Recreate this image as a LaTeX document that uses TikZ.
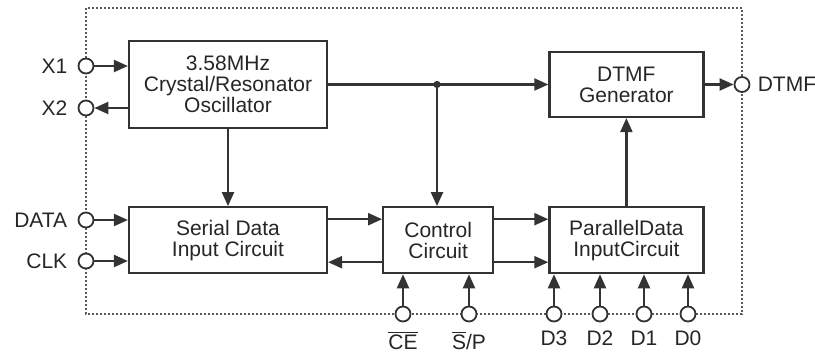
\documentclass[tikz,border=0pt]{standalone}
\usepackage{fontspec}
\setmainfont{Liberation Sans}
\usetikzlibrary{positioning,arrows.meta,calc}
\tikzset{
  blk/.style={draw=black!80, line width=1.1pt, fill=white, font=\fontsize{10.5}{10.5}\selectfont, text=black!85, align=center, inner sep=0pt},
  pin/.style={draw=black!80, line width=0.9pt, circle, fill=white, minimum size=7.5pt, inner sep=0pt},
  pl/.style={font=\fontsize{10.5}{10.5}\selectfont, text=black!85, inner sep=1pt},
  sg/.style={-{Triangle[length=7pt,width=6pt]}, line width=1.1pt, draw=black!80},
}
\begin{document}
\begin{tikzpicture}[x=0.5pt, y=-0.5pt]
\useasboundingbox (0,0) rectangle (815,353);
\draw[black!65, line width=0.9pt, dash pattern=on 1pt off 1pt] (86,8) rectangle (742,314);
\node[blk, minimum width=99pt, minimum height=43.5pt] (osc) at (228,84.5) {3.58MHz\\Crystal/Resonator\\Oscillator};
\node[blk, minimum width=99pt, minimum height=33pt, below=38.5pt of osc] (serial) {Serial Data\\Input Circuit};
\node[blk, minimum width=55pt, minimum height=33pt, right=27pt of serial] (ctrl) {Control\\Circuit};
\node[blk, minimum width=77pt, minimum height=33pt, right=27pt of ctrl] (par) {ParallelData\\InputCircuit};
\node[blk, minimum width=77pt, minimum height=32.5pt, above=44pt of par] (gen) {DTMF\\Generator};
\foreach \n/\y in {x1/66, x2/108, data/220, clk/261} \node[pin] (\n) at (86,\y) {};
\node[pin] (dtmfo) at (742,84.5) {};
\foreach \n/\x in {ce/403, sp/469, d3/554, d2/600, d1/644, d0/688} \node[pin] (\n) at (\x,314) {};
\node[pl, left=4pt of x1] {X1};
\node[pl, left=4pt of x2] {X2};
\node[pl, left=4pt of data] {DATA};
\node[pl, left=4pt of clk] {CLK};
\node[pl, right=2.5pt of dtmfo] {DTMF};
\node[pl, below=3pt of ce] {$\overline{\mbox{CE}}$};
\node[pl, below=3pt of sp] {$\overline{\mbox{S}}$/P};
\foreach \p/\t in {d3/D3, d2/D2, d1/D1, d0/D0} \node[pl, below=3pt of \p] {\t};
\draw[sg] (x1.east) -- (x1.east -| osc.west);
\draw[sg] (osc.west |- x2) -- (x2.east);
\draw[sg] (data.east) -- (data.east -| serial.west);
\draw[sg] (clk.east) -- (clk.east -| serial.west);
\draw[sg] (osc.south) -- (serial.north);
\coordinate (jn) at (437,84.5);
\draw[sg] (osc.east) -- (gen.west);
\fill[black!80] (jn) circle (1.8pt);
\draw[sg] (jn) -- (jn |- ctrl.north);
\draw[sg] ([yshift=10.5pt]serial.east) -- ([yshift=10.5pt]ctrl.west);
\draw[sg] ([yshift=-11pt]ctrl.west) -- ([yshift=-11pt]serial.east);
\draw[sg] ([yshift=10.5pt]ctrl.east) -- ([yshift=10.5pt]par.west);
\draw[sg] ([yshift=-11pt]ctrl.east) -- ([yshift=-11pt]par.west);
\draw[sg] (par.north) -- (gen.south);
\draw[sg] (gen.east) -- (dtmfo.west);
\foreach \p in {ce, sp, d3, d2, d1, d0} \draw[sg] (\p.north) -- (\p.north |- par.south);
\end{tikzpicture}
\end{document}
